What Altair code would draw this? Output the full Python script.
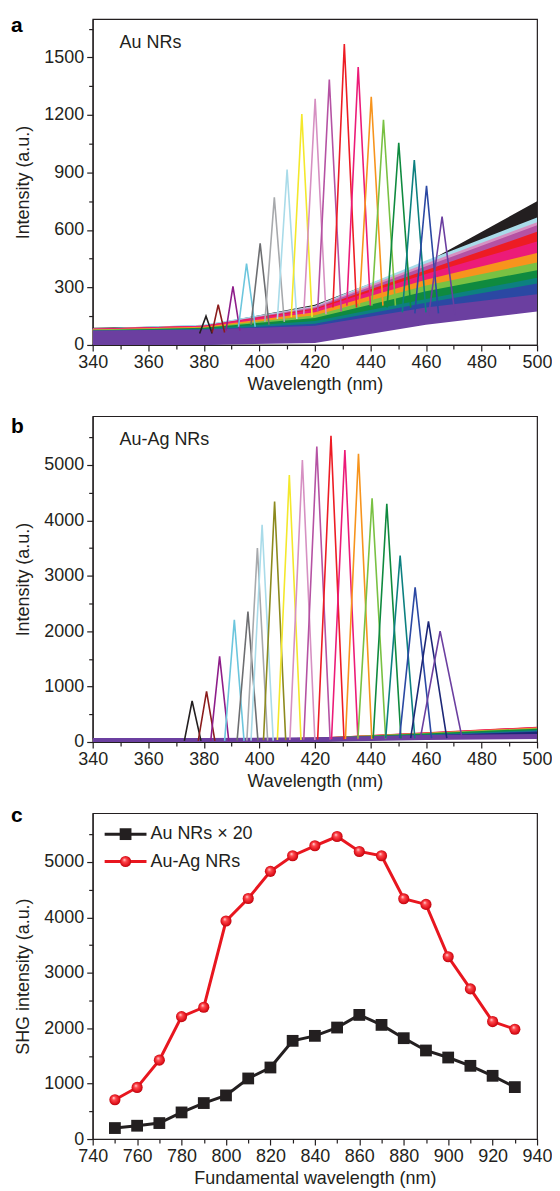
import altair as alt
import pandas as pd

FONT = "Liberation Sans"
INK = "#231f20"

# ---------------- panel a : Au NRs SHG spectra ----------------
a_keys = ["a%02d" % i for i in range(18)]
a_colors = ["#231f20", "#8b1c1c", "#8e1e8a", "#6cc6dd", "#6d6e71", "#a7a9ac",
            "#a9dbe9", "#f4e82b", "#d690c2", "#b552a3", "#ed1c24", "#ec1b78",
            "#f7941d", "#79c143", "#0f8a3f", "#0d8080", "#2b48a3", "#6b3fa0"]
a_peak_center = [380.8, 385.2, 390.5, 395.4, 400.3, 405.4, 410.0, 415.3, 420.1,
                 425.2, 430.6, 435.6, 440.3, 444.7, 450.2, 455.8, 460.2, 465.8]
a_peak_height = [150, 210, 305, 425, 530, 770, 915, 1205, 1285,
                 1385, 1570, 1450, 1295, 1175, 1055, 965, 830, 670]
a_peak_left = [378.5, 383.0, 388.0, 392.5, 397.0, 402.0, 406.5, 411.5, 416.0,
               421.0, 426.5, 431.5, 436.0, 440.5, 446.0, 451.5, 456.0, 461.0]
a_peak_right = [383.0, 387.5, 393.0, 398.5, 403.5, 409.0, 413.5, 419.0, 424.0,
                429.5, 435.0, 440.0, 444.5, 449.0, 454.5, 460.0, 464.5, 470.5]
a_peak_foot = [60, 65, 75, 95, 105, 120, 135, 145, 160,
               175, 195, 205, 205, 205, 195, 170, 165, 155]
a_bg_x = [340, 380, 420, 460, 500]
a_bg_mid = [
    [40, 50, 160, 380, 700],
    [45, 60, 150, 330, 560],
    [45, 60, 150, 340, 570],
    [45, 65, 160, 390, 610],
    [45, 60, 150, 340, 560],
    [45, 60, 155, 355, 575],
    [45, 65, 165, 400, 625],
    [45, 60, 150, 345, 565],
    [45, 60, 160, 385, 600],
    [45, 60, 155, 370, 585],
    [45, 60, 150, 350, 550],
    [45, 60, 145, 330, 500],
    [40, 55, 130, 300, 440],
    [40, 50, 115, 270, 390],
    [35, 50, 100, 240, 350],
    [35, 45, 85, 200, 310],
    [30, 40, 70, 180, 280],
    [30, 35, 55, 150, 220],
]
a_bg_noise = [50, 40, 40, 40, 40, 40, 40, 40, 40, 40, 40, 40, 40, 40, 40, 40, 40, 45]

# ---------------- panel b : Au-Ag NRs SHG spectra ----------------
b_keys = ["b%02d" % i for i in range(20)]
b_colors = ["#231f20", "#8b1c1c", "#8e1e8a", "#6cc6dd", "#6d6e71", "#a7a9ac",
            "#a9dbe9", "#8c8a1e", "#f4e82b", "#d690c2", "#b552a3", "#ed1c24",
            "#ec1b78", "#f7941d", "#79c143", "#0f8a3f", "#0d8080", "#2b48a3",
            "#1c2777", "#6b3fa0"]
b_peak_center = [375.8, 381.0, 385.7, 391.0, 395.9, 399.3, 401.0, 405.5, 410.8, 415.5,
                 420.7, 425.8, 430.8, 435.7, 440.6, 445.9, 450.7, 456.1, 460.9, 465.1]
b_peak_height = [740, 915, 1545, 2205, 2355, 3500, 3920, 4340, 4820, 5090,
                 5330, 5525, 5270, 5200, 4400, 4300, 3365, 2790, 2175, 2000]
b_peak_left = [373.0, 378.0, 382.5, 387.5, 392.0, 395.5, 397.0, 401.5, 406.5, 411.0,
               416.0, 421.0, 426.0, 431.0, 435.5, 441.0, 445.5, 450.5, 454.5, 458.0]
b_peak_right = [379.0, 384.0, 389.0, 394.5, 399.5, 403.0, 405.0, 409.5, 415.0, 420.0,
                425.5, 430.5, 435.5, 440.5, 445.5, 451.0, 456.0, 462.0, 467.5, 473.0]
b_peak_foot = [20, 20, 20, 20, 25, 25, 25, 30, 35, 35,
               40, 45, 50, 55, 60, 65, 65, 70, 70, 75]
b_bg_x = [340, 380, 420, 460, 500]
b_bg_mid = [
    [20, 20, 30, 80, 140],
    [20, 20, 35, 90, 160],
    [20, 20, 35, 100, 170],
    [20, 20, 40, 120, 200],
    [20, 20, 35, 100, 170],
    [20, 20, 40, 110, 190],
    [20, 20, 40, 120, 210],
    [20, 20, 40, 110, 190],
    [20, 20, 40, 120, 210],
    [20, 20, 45, 130, 230],
    [20, 20, 45, 130, 230],
    [25, 25, 50, 150, 250],
    [25, 25, 50, 145, 245],
    [25, 25, 50, 140, 235],
    [25, 25, 50, 135, 225],
    [25, 25, 45, 130, 215],
    [20, 20, 40, 110, 190],
    [20, 20, 35, 100, 170],
    [20, 20, 35, 90, 160],
    [25, 25, 40, 80, 100],
]
b_bg_noise = [25] * 19 + [45]

spec_x_major = [340, 360, 380, 400, 420, 440, 460, 480, 500]
spec_x_minor = [350, 370, 390, 410, 430, 450, 470, 490]
a_y_major = [0, 300, 600, 900, 1200, 1500]
a_y_minor = [150, 450, 750, 1050, 1350, 1650]
b_y_major = [0, 1000, 2000, 3000, 4000, 5000]
b_y_minor = [500, 1500, 2500, 3500, 4500, 5500]

# ---------------- panel c : SHG intensity vs fundamental ----------------
c_wl = [750, 760, 770, 780, 790, 800, 810, 820, 830, 840,
        850, 860, 870, 880, 890, 900, 910, 920, 930]
c_au_x20 = [198, 240, 288, 480, 649, 787, 1093, 1291, 1772, 1862,
            2012, 2240, 2060, 1820, 1598, 1471, 1321, 1141, 937]
c_auag = [709, 931, 1423, 2210, 2378, 3934, 4341, 4831, 5113, 5292,
          5459, 5190, 5113, 4336, 4234, 3289, 2709, 2120, 1982]
c_x_major = [740, 760, 780, 800, 820, 840, 860, 880, 900, 920, 940]
c_x_minor = [750, 770, 790, 810, 830, 850, 870, 890, 910, 930]
c_y_major = [0, 1000, 2000, 3000, 4000, 5000]
c_y_minor = [500, 1500, 2500, 3500, 4500, 5500]

W, H = 446, 327


def spectra_frames(keys, center, height, left, right, foot, bg_x, bg_mid, bg_noise):
    peak_rows, band_rows = [], []
    for i, k in enumerate(keys):
        pts = [(left[i], foot[i]), (center[i], height[i]), (right[i], foot[i])]
        for j, (x, y) in enumerate(pts):
            peak_rows.append({"s": k, "i": j, "wl": x, "v": y})
        for x, m in zip(bg_x, bg_mid[i]):
            band_rows.append({"s": k, "wl": x, "lo": max(m - bg_noise[i], 0), "hi": m + bg_noise[i]})
    return pd.DataFrame(peak_rows), pd.DataFrame(band_rows)


def label_layer(text, x, y, size, weight="normal", baseline="alphabetic"):
    return alt.Chart(pd.DataFrame({"t": [text]})).mark_text(
        align="left", baseline=baseline, font=FONT, fontSize=size,
        fontWeight=weight, color="#000000" if weight == "bold" else INK,
    ).encode(x=alt.value(x), y=alt.value(y), text="t:N")


def major_axis(values, title, orient, tp):
    return alt.Axis(values=values, title=title, orient=orient, grid=False, format="d",
                    tickSize=6, labelPadding=3, titlePadding=tp, labelFlush=False,
                    labelOverlap=False)


def minor_axis(values, orient):
    return alt.Axis(values=values, labels=False, tickSize=4, domain=False,
                    title=None, orient=orient, grid=False)


def spectra_panel(peaks, bands, keys, colors, ydom, ymaj, ymin_, sample, letter, letter_y):
    xs = alt.Scale(domain=[340, 500], nice=False, zero=False)
    ys = alt.Scale(domain=ydom, nice=False, zero=False)
    cs = alt.Scale(domain=keys, range=colors)
    band = alt.Chart(bands).mark_area(clip=True).encode(
        x=alt.X("wl:Q", scale=xs, axis=major_axis(spec_x_major, "Wavelength (nm)", "bottom", 4)),
        y=alt.Y("lo:Q", scale=ys, stack=None, axis=major_axis(ymaj, "Intensity (a.u.)", "left", 11)),
        y2="hi:Q",
        color=alt.Color("s:N", scale=cs, legend=None),
    )
    peak = alt.Chart(peaks).mark_line(clip=True, strokeWidth=1.6).encode(
        x=alt.X("wl:Q", scale=xs, axis=None),
        y=alt.Y("v:Q", scale=ys, axis=None),
        color=alt.Color("s:N", scale=cs, legend=None),
        order="i:Q",
    )
    minor = alt.Chart(bands).mark_point(opacity=0).encode(
        x=alt.X("wl:Q", scale=xs, axis=minor_axis(spec_x_minor, "bottom")),
        y=alt.Y("lo:Q", scale=ys, axis=minor_axis(ymin_, "left")),
    )
    return alt.layer(
        band, peak, minor,
        label_layer(sample, 27, 28.6, 18),
        label_layer(letter, -82, letter_y, 21, "bold"),
    ).resolve_axis(x="independent", y="independent").properties(width=W, height=H)


a_peaks, a_bands = spectra_frames(a_keys, a_peak_center, a_peak_height, a_peak_left,
                                  a_peak_right, a_peak_foot, a_bg_x, a_bg_mid, a_bg_noise)
b_peaks, b_bands = spectra_frames(b_keys, b_peak_center, b_peak_height, b_peak_left,
                                  b_peak_right, b_peak_foot, b_bg_x, b_bg_mid, b_bg_noise)

panel_a = spectra_panel(a_peaks, a_bands, a_keys, a_colors, [0, 1700], a_y_major, a_y_minor,
                        "Au NRs", "a", 13)
panel_b = spectra_panel(b_peaks, b_bands, b_keys, b_colors, [0, 5880], b_y_major, b_y_minor,
                        "Au-Ag NRs", "b", 16.5)

# panel c
c_df = pd.DataFrame({"wl": c_wl, "au": c_au_x20, "auag": c_auag})
cxs = alt.Scale(domain=[740, 940], nice=False, zero=False)
cys = alt.Scale(domain=[0, 5880], nice=False, zero=False)
RED = "#e8161f"
ball = {
    "gradient": "radial",
    "x1": 0.38, "y1": 0.32, "r1": 0.0,
    "x2": 0.5, "y2": 0.5, "r2": 0.55,
    "stops": [
        {"offset": 0.0, "color": "#ffe4e4"},
        {"offset": 0.3, "color": "#ff4a4f"},
        {"offset": 0.75, "color": "#e0121b"},
        {"offset": 1.0, "color": "#a8000a"},
    ],
}

au_line = alt.Chart(c_df).mark_line(color=INK, strokeWidth=3).encode(
    x=alt.X("wl:Q", scale=cxs, axis=major_axis(c_x_major, "Fundamental wavelength (nm)", "bottom", 4)),
    y=alt.Y("au:Q", scale=cys, axis=major_axis(c_y_major, "SHG intensity (a.u.)", "left", 11)),
)
au_pts = alt.Chart(c_df).mark_point(shape="square", filled=True, size=140, opacity=1, color=INK).encode(
    x=alt.X("wl:Q", scale=cxs, axis=None),
    y=alt.Y("au:Q", scale=cys, axis=None),
)
ag_line = alt.Chart(c_df).mark_line(color=RED, strokeWidth=3).encode(
    x=alt.X("wl:Q", scale=cxs, axis=None),
    y=alt.Y("auag:Q", scale=cys, axis=None),
)
ag_pts = alt.Chart(c_df).mark_point(shape="circle", filled=True, size=125, opacity=1,
                                     fill=ball, strokeWidth=0).encode(
    x=alt.X("wl:Q", scale=cxs, axis=None),
    y=alt.Y("auag:Q", scale=cys, axis=None),
)
c_minor = alt.Chart(c_df).mark_point(opacity=0).encode(
    x=alt.X("wl:Q", scale=cxs, axis=minor_axis(c_x_minor, "bottom")),
    y=alt.Y("au:Q", scale=cys, axis=minor_axis(c_y_minor, "left")),
)

one = pd.DataFrame({"k": [0]})
leg_rule1 = alt.Chart(one).mark_rule(color=INK, strokeWidth=3).encode(
    x=alt.value(12), x2=alt.value(54), y=alt.value(21))
leg_pt1 = alt.Chart(one).mark_point(shape="square", filled=True, size=140, opacity=1, color=INK).encode(
    x=alt.value(33), y=alt.value(21))
leg_rule2 = alt.Chart(one).mark_rule(color=RED, strokeWidth=3).encode(
    x=alt.value(12), x2=alt.value(54), y=alt.value(48.5))
leg_pt2 = alt.Chart(one).mark_point(shape="circle", filled=True, size=125, opacity=1,
                                    fill=ball, strokeWidth=0).encode(
    x=alt.value(33), y=alt.value(48.5))

panel_c = alt.layer(
    au_line, au_pts, ag_line, ag_pts, c_minor,
    leg_rule1, leg_pt1, leg_rule2, leg_pt2,
    label_layer("Au NRs \u00d7 20", 58, 21, 18, baseline="middle"),
    label_layer("Au-Ag NRs", 58, 48.5, 18, baseline="middle"),
    label_layer("c", -82, 9, 21, "bold"),
).resolve_axis(x="independent", y="independent").properties(width=W, height=H)

chart = alt.vconcat(panel_a, panel_b, panel_c, spacing=71.5, bounds="flush").resolve_scale(
    color="independent"
).properties(
    padding={"left": 2, "top": 4, "right": -1, "bottom": 5},
    background="white",
).configure_view(
    stroke=INK, strokeWidth=1.2,
).configure_axis(
    labelFont=FONT, titleFont=FONT, labelFontSize=18, titleFontSize=18,
    titleFontWeight="normal", labelColor=INK, titleColor=INK,
    domainColor=INK, tickColor=INK, domainWidth=1.2, tickWidth=1.2,
)

chart.save("out.html", embed_options={"renderer": "svg", "actions": False})
